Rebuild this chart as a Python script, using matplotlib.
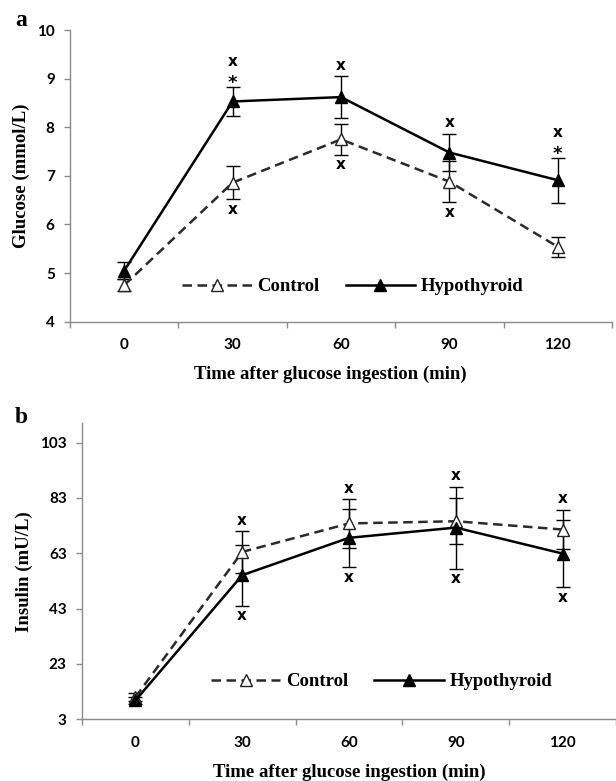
import matplotlib
matplotlib.use("Agg")
import matplotlib.pyplot as plt
import numpy as np

# time points (min) shown as categories
times = ["0", "30", "60", "90", "120"]

# glucose (mmol/L), mean and SEM
glu_ctrl = [4.75, 6.86, 7.75, 6.88, 5.54]
glu_ctrl_err = [0.12, 0.34, 0.32, 0.42, 0.20]
glu_hypo = [5.05, 8.53, 8.62, 7.48, 6.91]
glu_hypo_err = [0.18, 0.30, 0.43, 0.39, 0.46]

# insulin (mU/L), mean and SEM
ins_ctrl = [11.0, 63.5, 73.8, 74.6, 71.6]
ins_ctrl_err = [1.5, 7.5, 8.7, 8.4, 7.2]
ins_hypo = [9.8, 55.1, 68.6, 72.3, 62.9]
ins_hypo_err = [1.2, 11.0, 10.6, 14.8, 12.2]

# significance marks above / below each time point
glu_above = ["", "*x", "x", "x", "*x"]
glu_below = ["", "x", "x", "x", ""]
ins_above = ["", "x", "x", "x", "x"]
ins_below = ["", "x", "x", "x", "x"]

glu_ticks = [4, 5, 6, 7, 8, 9, 10]
ins_ticks = [3, 23, 43, 63, 83, 103]

serif = "Liberation Serif"
sans = "Lato"
spine_col = "#8c8c8c"

fig = plt.figure(figsize=(6.16, 7.81), dpi=100)
W, H = 616, 781


def panel(rect_px, ctrl, ctrl_err, hypo, hypo_err, above, below,
          yticks, ylim, ylabel, ylab_x, xlab_x, leg_xy):
    x0, y0, x1, y1 = rect_px
    ax = fig.add_axes([x0 / W, 1 - y1 / H, (x1 - x0) / W, (y1 - y0) / H])
    x = np.arange(len(times))

    ax.errorbar(x, ctrl, yerr=ctrl_err, fmt="none", ecolor="black",
                elinewidth=1.0, capsize=5, capthick=1.0, zorder=2)
    ax.errorbar(x, hypo, yerr=hypo_err, fmt="none", ecolor="black",
                elinewidth=1.0, capsize=5, capthick=1.0, zorder=2)
    ax.plot(x, ctrl, color="#2a2a2a", lw=1.8, ls=(0, (3.8, 2.2)), marker="^",
            ms=8, mfc="white", mec="#222222", mew=1.0, label="Control", zorder=3)
    ax.plot(x, hypo, color="black", lw=1.8, ls="-", marker="^",
            ms=8, mfc="black", mec="black", label="Hypothyroid", zorder=4)

    tops = np.maximum(np.array(ctrl) + ctrl_err, np.array(hypo) + hypo_err)
    bots = np.minimum(np.array(ctrl) - ctrl_err, np.array(hypo) - hypo_err)
    for i in range(len(times)):
        off = 11
        for ch in above[i]:
            if ch == "*":
                ax.annotate(ch, (i, tops[i]), xytext=(0, off - 7),
                            textcoords="offset pixels", ha="center", va="center",
                            fontsize=13, fontweight="bold", family="DejaVu Sans")
            else:
                ax.annotate(ch, (i, tops[i]), xytext=(0, off),
                            textcoords="offset pixels", ha="center", va="center",
                            fontsize=11, fontweight="bold", family="DejaVu Sans")
            off += 14
        if below[i]:
            ax.annotate(below[i], (i, bots[i]), xytext=(0, -10),
                        textcoords="offset pixels", ha="center", va="center",
                        fontsize=11, fontweight="bold", family="DejaVu Sans")

    ax.set_xlim(-0.5, len(times) - 0.5)
    ax.set_ylim(*ylim)
    ax.set_yticks(yticks)
    ax.set_xticks(x)
    ax.set_xticklabels(times)
    ax.set_xticks(np.arange(-0.5, len(times)), minor=True)
    ax.tick_params(axis="x", which="major", length=0, pad=12)
    ax.tick_params(axis="x", which="minor", length=4, color=spine_col, width=1)
    ax.tick_params(axis="y", length=4, color=spine_col, width=1, pad=7)
    for lab in ax.get_xticklabels() + ax.get_yticklabels():
        lab.set_fontfamily(sans)
        lab.set_fontweight("bold")
        lab.set_fontsize(11)

    for s in ["top", "right"]:
        ax.spines[s].set_visible(False)
    for s in ["left", "bottom"]:
        ax.spines[s].set_color(spine_col)
        ax.spines[s].set_linewidth(1)

    ax.set_ylabel(ylabel, family=serif, fontweight="bold", fontsize=13.5)
    ax.yaxis.set_label_coords(ylab_x, 0.5)
    ax.set_xlabel("Time after glucose ingestion (min)", family=serif,
                  fontweight="bold", fontsize=13.5)
    ax.xaxis.set_label_coords(xlab_x, -0.15)

    ax.legend(loc="center", bbox_to_anchor=leg_xy, ncol=2, frameon=False,
              prop={"family": serif, "weight": "bold", "size": 13.5},
              handlelength=3.7, handletextpad=0.3, columnspacing=1.4,
              numpoints=1)
    return ax


panel((70, 30, 612, 321.7), glu_ctrl, glu_ctrl_err, glu_hypo, glu_hypo_err,
      glu_above, glu_below, glu_ticks, (4, 10), "Glucose (mmol/L)",
      -0.074, 0.48, (0.522, 0.12))
panel((82, 423.3, 616, 719.3), ins_ctrl, ins_ctrl_err, ins_hypo, ins_hypo_err,
      ins_above, ins_below, ins_ticks, (3, 110), "Insulin (mU/L)",
      -0.091, 0.5, (0.561, 0.127))

fig.text(15 / W, 1 - 21 / H, "a", family=serif, fontweight="bold",
         fontsize=17, ha="left", va="center")
fig.text(15 / W, 1 - 418 / H, "b", family=serif, fontweight="bold",
         fontsize=17, ha="left", va="center")

fig.savefig("out.png", dpi=100)
